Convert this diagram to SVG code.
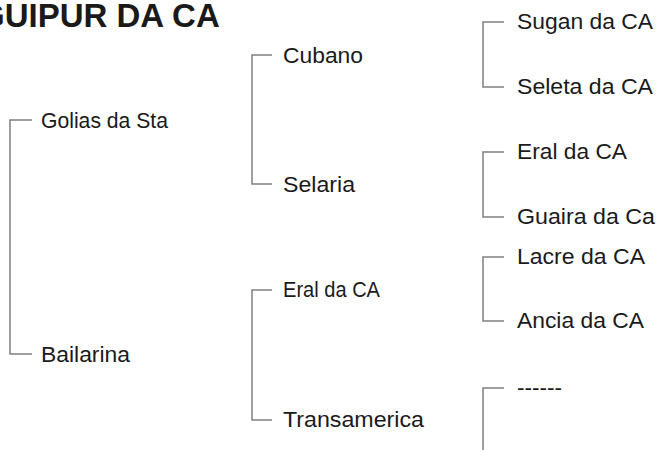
<svg xmlns="http://www.w3.org/2000/svg" width="657" height="450" viewBox="0 0 657 450">
<style>
.t{font-family:"Liberation Sans",Arial,sans-serif;font-size:22px;fill:#1a1a1a}
.h{font-family:"Liberation Sans",Arial,sans-serif;font-size:33px;font-weight:bold;fill:#1a1a1a}
.c{fill:none;stroke:#808080;stroke-width:1.5}
</style>
<rect width="657" height="450" fill="#fff"/>
<text class="h" x="-21" y="27">GUIPUR DA CA</text>
<g id="connectors">
<path class="c" d="M32 120H10V354H32"/>
<path class="c" d="M272 55H252V184H272"/>
<path class="c" d="M272 290H252V420H272"/>
<path class="c" d="M504 22H483V87H504"/>
<path class="c" d="M504 152H483V217H504"/>
<path class="c" d="M504 257H483V321H504"/>
<path class="c" d="M504 388H483V450"/>
</g>
<g id="golias"><text class="t" x="41" y="128" textLength="127" lengthAdjust="spacingAndGlyphs">Golias da Sta</text></g>
<g id="bailarina"><text class="t" x="41" y="362" textLength="89" lengthAdjust="spacingAndGlyphs">Bailarina</text></g>
<g id="cubano"><text class="t" x="283" y="63" textLength="80" lengthAdjust="spacingAndGlyphs">Cubano</text></g>
<g id="selaria"><text class="t" x="283" y="192" textLength="72" lengthAdjust="spacingAndGlyphs">Selaria</text></g>
<g id="eral-mid"><text class="t" x="283" y="297" textLength="97" lengthAdjust="spacingAndGlyphs">Eral da CA</text></g>
<g id="transamerica"><text class="t" x="283" y="427" textLength="141" lengthAdjust="spacingAndGlyphs">Transamerica</text></g>
<g id="sugan"><text class="t" x="517" y="29" textLength="136" lengthAdjust="spacingAndGlyphs">Sugan da CA</text></g>
<g id="seleta"><text class="t" x="517" y="94" textLength="136" lengthAdjust="spacingAndGlyphs">Seleta da CA</text></g>
<g id="eral-right"><text class="t" x="517" y="159" textLength="110" lengthAdjust="spacingAndGlyphs">Eral da CA</text></g>
<g id="guaira"><text class="t" x="517" y="224" textLength="138" lengthAdjust="spacingAndGlyphs">Guaira da Ca</text></g>
<g id="lacre"><text class="t" x="517" y="264" textLength="128" lengthAdjust="spacingAndGlyphs">Lacre da CA</text></g>
<g id="ancia"><text class="t" x="517" y="328" textLength="127" lengthAdjust="spacingAndGlyphs">Ancia da CA</text></g>
<g id="unknown"><text class="t" x="517" y="395" textLength="45" lengthAdjust="spacingAndGlyphs">------</text></g>
</svg>
